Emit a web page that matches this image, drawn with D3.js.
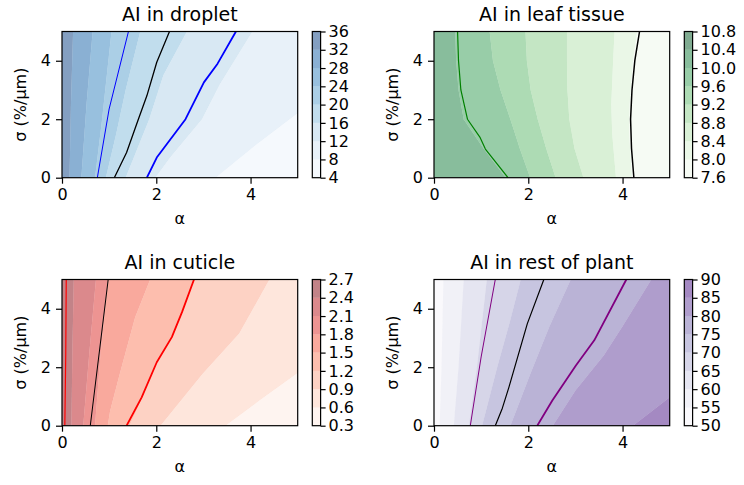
<!DOCTYPE html>
<html>
<head>
<meta charset="utf-8">
<script src="https://cdn.jsdelivr.net/npm/d3@7"></script>
<style>
  body { margin: 0; background: #fff; }
  text { font-family: "DejaVu Sans", sans-serif; fill: #000; }
</style>
</head>
<body>
<div id="chart"></div>
<script>
// ---- data: contour boundaries as [alpha, sigma] points ----
var alphaTicks = [0, 2, 4];
var sigmaTicks = [0, 2, 4];

var dropletLevels = [4, 8, 12, 16, 20, 24, 28, 32, 36];
var dropletBounds = [
  {level: 32, pts: [[0.16, 0], [0.19, 2.5], [0.235, 5]]},
  {level: 28, pts: [[0.41, 0], [0.52, 2.5], [0.65, 5]]},
  {level: 24, pts: [[0.7, 0], [0.85, 2], [1.05, 5]]},
  {level: 20, pts: [[0.93, 0], [1.15, 1.5], [1.35, 3], [1.66, 5]]},
  {level: 16, pts: [[1.35, 0], [1.6, 1], [1.85, 2], [2.15, 3.5], [2.65, 5]]},
  {level: 12, pts: [[1.98, 0], [2.3, 0.7], [2.97, 2], [3.35, 3.2], [4.04, 5]]},
  {level: 8, pts: [[3.26, 0], [4.1, 1.1], [5, 2.2]]}
];
var dropletLines = [
  [[0.75, 0], [1.0, 2.35], [1.41, 5]],
  [[1.11, 0], [1.37, 0.86], [1.62, 2.0], [1.8, 2.8], [2.01, 3.95], [2.28, 5]],
  [[1.8, 0], [2.01, 0.69], [2.62, 2.0], [3.01, 3.26], [3.3, 3.9], [3.69, 5]]
];

var leafLevels = [7.6, 8.0, 8.4, 8.8, 9.2, 9.6, 10.0, 10.4, 10.8];
var leafBounds = [
  {level: 10.0, pts: [[1.52, 0], [1.05, 1], [0.63, 2], [0.52, 3], [0.47, 4], [0.45, 5]]},
  {level: 9.6, pts: [[2.04, 0], [1.82, 1], [1.62, 2], [1.41, 3], [1.25, 4], [1.18, 5]]},
  {level: 9.2, pts: [[2.58, 0], [2.38, 1], [2.2, 2], [2.05, 3], [1.97, 4], [1.94, 5]]},
  {level: 8.8, pts: [[3.17, 0], [2.98, 1], [2.87, 2], [2.83, 3], [2.82, 4], [2.82, 5]]},
  {level: 8.4, pts: [[3.86, 0], [3.78, 1.5], [3.76, 2.5], [3.8, 4], [3.83, 5]]},
  {level: 8.0, pts: [[4.2, 0], [4.14, 1.5], [4.15, 2.5], [4.22, 4], [4.31, 5]]}
];
var leafLines = [
  [[1.57, 0], [1.09, 0.98], [0.98, 1.37], [0.71, 2.0], [0.57, 3.0], [0.52, 4], [0.5, 5]],
  [[4.24, 0], [4.19, 1], [4.17, 2], [4.2, 3], [4.26, 4], [4.36, 5]]
];

var cuticleLevels = [0.3, 0.6, 0.9, 1.2, 1.5, 1.8, 2.1, 2.4, 2.7];
var cuticleBounds = [
  {level: 2.4, pts: [[0.2, 0], [0.22, 2.5], [0.25, 5]]},
  {level: 2.1, pts: [[0.45, 0], [0.58, 2.5], [0.72, 5]]},
  {level: 1.8, pts: [[0.7, 0], [0.82, 2.5], [0.98, 5]]},
  {level: 1.5, pts: [[0.97, 0], [1.02, 0.5], [1.23, 1.8], [1.55, 3.7], [1.87, 5]]},
  {level: 1.2, pts: [[1.43, 0], [1.72, 1], [2.0, 2.2], [2.33, 3], [2.82, 5]]},
  {level: 0.9, pts: [[2.09, 0], [2.98, 1.77], [3.76, 3.15], [4.4, 5]]},
  {level: 0.6, pts: [[3.47, 0], [4.19, 0.86], [5, 1.8]]}
];
var cuticleLines = [
  [[0.06, 0], [0.08, 2.5], [0.09, 5]],
  [[0.6, 0], [0.98, 5]],
  [[1.37, 0], [1.69, 0.97], [2.01, 2.17], [2.33, 3.03], [2.55, 3.9], [2.8, 5]]
];

var restLevels = [50, 55, 60, 65, 70, 75, 80, 85, 90];
var restBounds = [
  {level: 55, pts: [[0.12, 0], [0.16, 2], [0.2, 5]]},
  {level: 60, pts: [[0.42, 0], [0.52, 2], [0.63, 5]]},
  {level: 65, pts: [[0.74, 0], [0.91, 2], [1.12, 5]]},
  {level: 70, pts: [[1.02, 0], [1.34, 2], [1.6, 3.5], [1.84, 5]]},
  {level: 75, pts: [[1.62, 0], [2.05, 1.8], [2.45, 3.4], [2.9, 5]]},
  {level: 80, pts: [[2.52, 0], [3.0, 1.2], [3.6, 2.4], [4.0, 3.4], [4.61, 5]]},
  {level: 85, pts: [[4.22, 0], [5, 0.97]]}
];
var restLines = [
  [[0.77, 0], [1.0, 2.35], [1.3, 5]],
  [[1.3, 0], [1.45, 0.6], [1.59, 1.32], [1.98, 3.49], [2.33, 5]],
  [[2.19, 0], [2.51, 0.86], [3.01, 2.06], [3.4, 2.92], [4.08, 5]]
];

// ---- layout ----
var W = 744, H = 485;
var axW = 235.7, axH = 146.2;

var panels = [
  {title: "AI in droplet", left: 62, top: 31.5, levels: dropletLevels, bounds: dropletBounds, lines: dropletLines,
   cmap: d3.interpolateBlues, decreasing: true, lineColors: ["blue", "black", "blue"], lineWidths: [1, 1.3, 1.8], fmt: d3.format("d")},
  {title: "AI in leaf tissue", left: 434, top: 31.5, levels: leafLevels, bounds: leafBounds, lines: leafLines,
   cmap: d3.interpolateGreens, decreasing: true, lineColors: ["green", "black"], lineWidths: [1.2, 1.5], fmt: d3.format(".1f")},
  {title: "AI in cuticle", left: 62, top: 279.5, levels: cuticleLevels, bounds: cuticleBounds, lines: cuticleLines,
   cmap: d3.interpolateReds, decreasing: true, lineColors: ["red", "black", "red"], lineWidths: [1.2, 1, 1.8], fmt: d3.format(".1f")},
  {title: "AI in rest of plant", left: 434, top: 279.5, levels: restLevels, bounds: restBounds, lines: restLines,
   cmap: d3.interpolatePurples, decreasing: false, lineColors: ["purple", "black", "purple"], lineWidths: [1, 1.2, 1.8], fmt: d3.format("d")}
];

var svg = d3.select("#chart").append("svg")
  .attr("width", W)
  .attr("height", H);

panels.forEach(function(p, k) {
  var x = d3.scaleLinear().domain([0, 5]).range([0, axW]);
  var y = d3.scaleLinear().domain([0, 5]).range([axH, 0]);
  var nb = p.levels.length - 1;
  // band colour at band midpoint, like matplotlib contourf
  var bandColor = function(i) { return p.cmap((i + 0.5) / nb); };

  var g = svg.append("g").attr("transform", "translate(" + p.left + "," + p.top + ")");

  g.append("clipPath").attr("id", "clip" + k)
    .append("rect").attr("width", axW).attr("height", axH);

  var plot = g.append("g").attr("clip-path", "url(#clip" + k + ")");

  // base band = band left of first boundary
  var firstIdx = p.levels.indexOf(p.bounds[0].level);
  var baseBand = p.decreasing ? firstIdx : firstIdx - 1;
  plot.append("rect")
    .attr("width", axW).attr("height", axH)
    .attr("fill", bandColor(baseBand))
    .attr("fill-opacity", 0.5);

  var line = d3.line()
    .x(function(d) { return x(d[0]); })
    .y(function(d) { return y(d[1]); });

  // paint region to the right of each boundary
  p.bounds.forEach(function(b) {
    var idx = p.levels.indexOf(b.level);
    var band = p.decreasing ? idx - 1 : idx;
    var pts = b.pts.slice();
    var last = pts[pts.length - 1], first = pts[0];
    pts.push([7, last[1]]);
    pts.push([7, first[1]]);
    // white underlay so translucency does not stack
    plot.append("path")
      .attr("d", line(pts) + "Z")
      .attr("fill", "#fff");
    plot.append("path")
      .attr("d", line(pts) + "Z")
      .attr("fill", bandColor(band))
      .attr("fill-opacity", 0.5);
  });

  // contour lines
  p.lines.forEach(function(l, i) {
    plot.append("path")
      .datum(l)
      .attr("d", line)
      .attr("fill", "none")
      .attr("stroke", p.lineColors[i])
      .attr("stroke-width", p.lineWidths[i])
      .attr("stroke-linejoin", "round");
  });

  // axes
  var xAxis = g.append("g")
    .attr("transform", "translate(0," + axH + ")")
    .call(d3.axisBottom(x).tickValues(alphaTicks).tickFormat(d3.format("d")).tickSize(6).tickPadding(5));
  var yAxis = g.append("g")
    .call(d3.axisLeft(y).tickValues(sigmaTicks).tickFormat(d3.format("d")).tickSize(6).tickPadding(5));
  [xAxis, yAxis].forEach(function(a) {
    a.select(".domain").remove();
    a.selectAll("line").attr("stroke", "#000").attr("stroke-width", 1.2);
    a.selectAll("text").style("font-size", "16px").attr("fill", "#000");
  });

  g.append("rect")
    .attr("width", axW).attr("height", axH)
    .attr("fill", "none")
    .attr("stroke", "#000")
    .attr("stroke-width", 1.2);

  g.append("text")
    .attr("x", axW / 2).attr("y", -11)
    .attr("text-anchor", "middle")
    .style("font-size", "19px")
    .text(p.title);

  g.append("text")
    .attr("x", axW / 2).attr("y", axH + 46)
    .attr("text-anchor", "middle")
    .style("font-size", "16px")
    .text("α");

  g.append("text")
    .attr("transform", "translate(-36," + (axH / 2) + ") rotate(-90)")
    .attr("text-anchor", "middle")
    .style("font-size", "16px")
    .text("σ (%/μm)");

  // colorbar
  var cb = svg.append("g").attr("transform", "translate(" + (p.left + 250.3) + "," + p.top + ")");
  var cbW = 8.3;
  var cy = d3.scaleLinear().domain([p.levels[0], p.levels[nb]]).range([axH, 0]);
  cb.selectAll("rect.band")
    .data(d3.range(nb))
    .enter().append("rect")
    .attr("class", "band")
    .attr("x", 0)
    .attr("y", function(i) { return cy(p.levels[i + 1]); })
    .attr("width", cbW)
    .attr("height", function(i) { return cy(p.levels[i]) - cy(p.levels[i + 1]); })
    .attr("fill", function(i) { return bandColor(i); })
    .attr("fill-opacity", 0.5);
  cb.append("rect")
    .attr("width", cbW).attr("height", axH)
    .attr("fill", "none")
    .attr("stroke", "#000")
    .attr("stroke-width", 1.2);
  var cAxis = cb.append("g")
    .attr("transform", "translate(" + cbW + ",0)")
    .call(d3.axisRight(cy).tickValues(p.levels).tickFormat(p.fmt).tickSize(5).tickPadding(3));
  cAxis.select(".domain").remove();
  cAxis.selectAll("line").attr("stroke", "#000").attr("stroke-width", 1.2);
  cAxis.selectAll("text").style("font-size", "16px").attr("fill", "#000");
});
</script>
</body>
</html>
